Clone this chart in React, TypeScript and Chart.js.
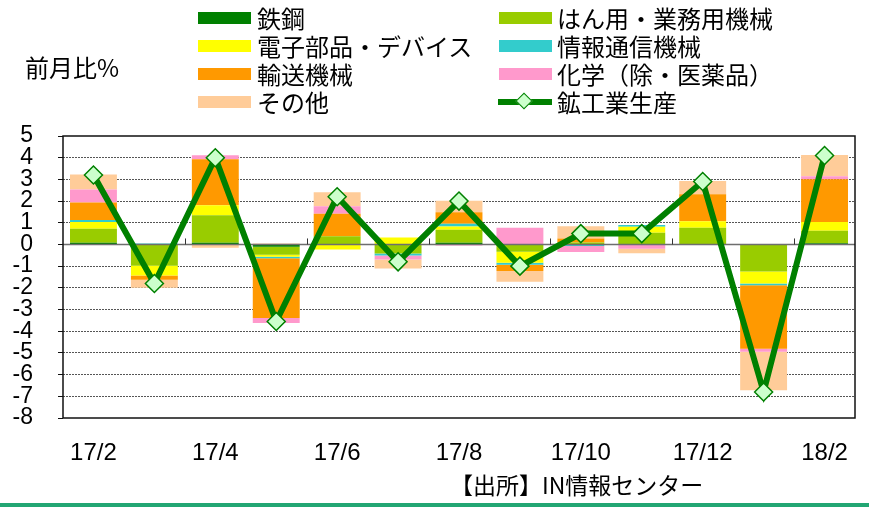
import React, { useEffect, useRef } from "react";
import { Chart, registerables } from "chart.js";

Chart.register(...registerables);

const categories = ["17/2", "17/3", "17/4", "17/5", "17/6", "17/7", "17/8", "17/9", "17/10", "17/11", "17/12", "18/1", "18/2"];
const yTicks = [5, 4, 3, 2, 1, 0, -1, -2, -3, -4, -5, -6, -7, -8];

const steel = [0.08, -0.03, 0.08, -0.1, 0, 0, 0.08, 0, 0, 0, 0, 0, 0.06];
const generalMachinery = [0.65, -0.95, 1.27, -0.37, 0.38, -0.42, 0.6, -0.34, 0.09, 0.54, 0.77, -1.25, 0.57];
const electronics = [0.3, -0.45, 0.46, -0.1, -0.23, 0.32, 0.15, -0.5, 0, 0.28, 0.3, -0.55, 0.41];
const infoComm = [0.1, 0.05, 0, -0.07, 0, -0.09, 0.12, -0.1, -0.07, 0.08, 0, -0.08, 0];
const transport = [0.8, -0.2, 2.12, -2.75, 1.04, 0, 0.54, -0.28, 0.18, 0, 1.25, -2.93, 1.97];
const chemical = [0.6, 0, 0.18, -0.23, 0.34, -0.18, -0.05, 0.77, -0.28, -0.2, 0, -0.14, 0.14];
const others = [0.7, -0.37, -0.15, 0.04, 0.65, -0.42, 0.52, -0.5, 0.57, -0.2, 0.6, -1.77, 0.97];
const industrialProduction = [3.2, -1.8, 4.0, -3.55, 2.2, -0.8, 2.0, -1.0, 0.5, 0.5, 2.9, -6.8, 4.1];

const seriesNames = ["鉄鋼", "はん用・業務用機械", "電子部品・デバイス", "情報通信機械", "輸送機械", "化学（除・医薬品）", "その他"];
const seriesColors = ["#008000", "#99cc00", "#ffff00", "#33cccc", "#ff9900", "#ff99cc", "#ffcc99"];
const lineName = "鉱工業生産";

const CJK = "'Noto Sans CJK JP', 'Noto Sans', sans-serif";
const LATIN = "'Liberation Sans', Arial, sans-serif";

const overlayPlugin = {
  id: "overlay",
  beforeDatasetDraw(chart: any, args: any) {
    if (args.meta.type !== "line") return;
    const ctx = chart.ctx;
    const y = chart.scales.y;
    const x = chart.scales.x;
    const ca = chart.chartArea;
    const y0 = y.getPixelForValue(0);
    ctx.save();
    ctx.strokeStyle = "#6e6e6e";
    ctx.lineWidth = 1.5;
    ctx.beginPath();
    ctx.moveTo(ca.left, y0);
    ctx.lineTo(ca.right, y0);
    ctx.stroke();
    ctx.strokeStyle = "#333";
    ctx.lineWidth = 1;
    for (let i = 1; i < categories.length - 1; i += 2) {
      const px = Math.round((x.getPixelForValue(i) + x.getPixelForValue(i + 1)) / 2) + 0.5;
      ctx.beginPath();
      ctx.moveTo(px, y0);
      ctx.lineTo(px, y0 - 6);
      ctx.stroke();
    }
    ctx.restore();
  },
  afterDatasetsDraw(chart: any) {
    const ctx = chart.ctx;
    const ca = chart.chartArea;
    ctx.save();
    ctx.strokeStyle = "#111";
    ctx.lineWidth = 1.5;
    ctx.strokeRect(ca.left, ca.top, ca.right - ca.left, ca.bottom - ca.top);
    ctx.restore();
  },
};

function ChartCanvas() {
  const ref = useRef<HTMLCanvasElement | null>(null);
  useEffect(() => {
    if (!ref.current) return;
    const barData = [steel, generalMachinery, electronics, infoComm, transport, chemical, others];
    const datasets: any[] = barData.map((d, i) => ({
      type: "bar",
      label: seriesNames[i],
      data: d,
      backgroundColor: seriesColors[i],
      borderWidth: 0,
      stack: "bars",
      barPercentage: 0.77,
      categoryPercentage: 1,
      order: 1,
    }));
    datasets.push({
      type: "line",
      label: lineName,
      data: industrialProduction,
      borderColor: "#008000",
      borderWidth: 6,
      pointStyle: "rectRot",
      pointRadius: 9,
      pointBackgroundColor: "#ccffcc",
      pointBorderColor: "#008000",
      pointBorderWidth: 1.5,
      tension: 0,
      stack: "line",
      order: -1,
    });
    const chart = new Chart(ref.current, {
      type: "bar",
      data: { labels: categories, datasets },
      plugins: [overlayPlugin],
      options: {
        animation: false,
        responsive: false,
        maintainAspectRatio: false,
        layout: { padding: { left: 0, right: 14, top: 136, bottom: 0 } },
        plugins: { legend: { display: false }, tooltip: { enabled: false } },
        scales: {
          x: {
            stacked: true,
            grid: { display: false },
            border: { display: false },
            ticks: {
              autoSkip: false,
              maxRotation: 0,
              minRotation: 0,
              padding: 13,
              color: "#000",
              font: { family: LATIN, size: 24 },
              callback: (v: any, i: number) => (i % 2 === 0 ? categories[i] : ""),
            },
            afterFit: (s: any) => {
              s.height = 89;
            },
          },
          y: {
            stacked: true,
            min: -8,
            max: 5,
            afterBuildTicks: (s: any) => {
              s.ticks = yTicks.map((v) => ({ value: v }));
            },
            grid: {
              color: (c: any) => {
                const v = c.tick && c.tick.value;
                return v === 5 || v === -8 || v === 0 ? "rgba(0,0,0,0)" : "#555";
              },
              lineWidth: 1,
              drawTicks: true,
              tickLength: 5,
              tickColor: "#111",
            },
            border: { display: false, dash: [2, 1] },
            ticks: {
              autoSkip: false,
              padding: 25,
              color: "#000",
              font: { family: LATIN, size: 23 },
              callback: (v: any) => String(v),
            },
            afterFit: (s: any) => {
              s.width = 63;
            },
          },
        },
      },
    } as any);
    return () => chart.destroy();
  }, []);
  return <canvas ref={ref} width={869} height={507} style={{ position: "absolute", left: 0, top: 0 }} />;
}

const swatch = (color: string) => ({
  position: "absolute" as const,
  width: 53,
  height: 12,
  background: color,
});

export default function App() {
  const rowsY = [17.5, 45.5, 73.5, 101.5];
  const leftIdx = [0, 2, 4, 6];
  const rightIdx = [1, 3, 5];
  const textStyle = {
    position: "absolute" as const,
    fontFamily: CJK,
    fontSize: 24,
    lineHeight: "28px",
    color: "#000",
    whiteSpace: "nowrap" as const,
  };
  return (
    <div style={{ position: "fixed", left: 0, top: 0, width: 869, height: 507, background: "#fff", overflow: "hidden" }}>
      <ChartCanvas />
      <div style={{ ...textStyle, left: 25, top: 53, fontSize: 24 }}>前月比%</div>
      {leftIdx.map((si, r) => (
        <React.Fragment key={"l" + si}>
          <div style={{ ...swatch(seriesColors[si]), left: 198, top: rowsY[r] - 6 }} />
          <div style={{ ...textStyle, left: 257, top: rowsY[r] - 14 }}>{seriesNames[si]}</div>
        </React.Fragment>
      ))}
      {rightIdx.map((si, r) => (
        <React.Fragment key={"r" + si}>
          <div style={{ ...swatch(seriesColors[si]), left: 499, top: rowsY[r] - 6 }} />
          <div style={{ ...textStyle, left: 557, top: rowsY[r] - 14 }}>{seriesNames[si]}</div>
        </React.Fragment>
      ))}
      <div style={{ position: "absolute", left: 498, top: rowsY[3] - 3, width: 54, height: 6, background: "#008000" }} />
      <div
        style={{
          position: "absolute",
          left: 518,
          top: rowsY[3] - 7,
          width: 12,
          height: 12,
          background: "#ccffcc",
          border: "1.5px solid #008000",
          transform: "rotate(45deg)",
          boxSizing: "border-box",
        }}
      />
      <div style={{ ...textStyle, left: 557, top: rowsY[3] - 14 }}>{lineName}</div>
      <div style={{ ...textStyle, left: 450, top: 470, fontSize: 23 }}>【出所】IN情報センター</div>
      <div style={{ position: "absolute", left: 0, top: 503, width: 869, height: 4, background: "#22a673" }} />
    </div>
  );
}
